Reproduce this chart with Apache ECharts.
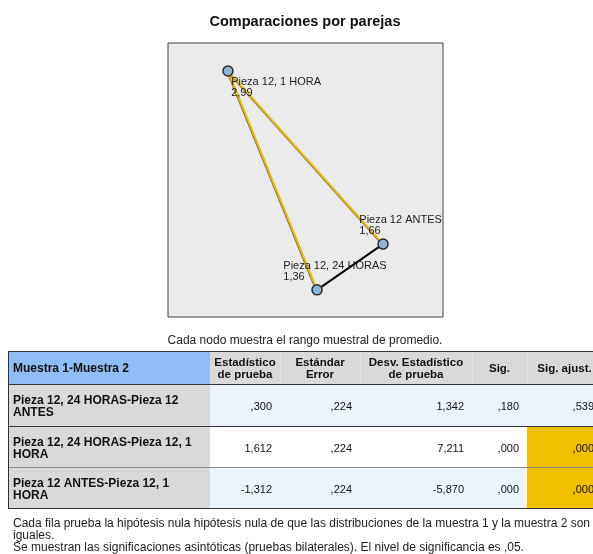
<!DOCTYPE html>
<html>
<head>
<meta charset="utf-8">
<script src="https://cdn.jsdelivr.net/npm/echarts@6/dist/echarts.min.js"></script>
<style>
  html, body { margin: 0; padding: 0; background: #fff; }
  #chart { width: 593px; height: 554px; }
</style>
</head>
<body>
<div id="chart"></div>
<script>
// nodes (layout position in a 0-100 box, mean rank)
var nodeNames = ['Pieza 12, 1 HORA', 'Pieza 12 ANTES', 'Pieza 12, 24 HORAS'];
var nodeX = [21.8, 78.2, 54.2];
var nodeY = [89.8, 26.6, 9.9];
var meanRank = [2.99, 1.66, 1.36];

// pairwise table
var headers = ['Muestra 1-Muestra 2', 'Estadístico\nde prueba', 'Estándar\nError', 'Desv. Estadístico\nde prueba', 'Sig.', 'Sig. ajust.'];
var pairs = ['Pieza 12, 24 HORAS-Pieza 12 ANTES', 'Pieza 12, 24 HORAS-Pieza 12, 1 HORA', 'Pieza 12 ANTES-Pieza 12, 1 HORA'];
var pairFrom = [2, 2, 1];
var pairTo = [1, 0, 0];
var testStat = [0.300, 1.612, -1.312];
var stdError = [0.224, 0.224, 0.224];
var stdTestStat = [1.342, 7.211, -5.870];
var sig = [0.180, 0.000, 0.000];
var sigAdj = [0.539, 0.000, 0.000];

// table layout (px inside the table grid)
var colEdges = [0, 202, 272, 352, 464, 519, 594];
var rowEdges = [0, 34, 76, 117, 158];

var FONT = '"Liberation Sans", Arial, sans-serif';

function fmt(v) {
  return v.toFixed(3).replace('.', ',').replace(/^(-?)0,/, '$1,');
}
function fmt2(v) {
  return v.toFixed(2).replace('.', ',');
}

var chart = echarts.init(document.getElementById('chart'));

var graphNodes = nodeNames.map(function (n, i) {
  var pos = [[9, 11], [-18, -24], [-28, -24]][i];
  return {
    name: n,
    value: [nodeX[i], nodeY[i]],
    rank: meanRank[i],
    label: { position: pos }
  };
});

var graphLinks = pairs.map(function (p, i) {
  var signif = sigAdj[i] < 0.05;
  return {
    source: nodeNames[pairFrom[i]],
    target: nodeNames[pairTo[i]],
    lineStyle: {
      color: signif ? '#efbd00' : '#000',
      width: 2,
      opacity: 1,
      shadowColor: signif ? 'rgba(0,0,0,0.5)' : 'transparent',
      shadowBlur: 0,
      shadowOffsetX: -1,
      shadowOffsetY: 0
    }
  };
});

var cells = [];
for (var r = 0; r < 4; r++) {
  for (var c = 0; c < 6; c++) cells.push([c, r]);
}

function cellText(c, r) {
  if (r === 0) return headers[c];
  var i = r - 1;
  return [pairs[i], fmt(testStat[i]), fmt(stdError[i]), fmt(stdTestStat[i]), fmt(sig[i]), fmt(sigAdj[i])][c];
}

function cellFill(c, r) {
  if (r === 0) return c === 0 ? '#8ebdf8' : '#d9d9d9';
  if (c === 0) return '#d9d9d9';
  if (c === 5 && sigAdj[r - 1] < 0.05) return '#f0bf00';
  return (r % 2 === 1) ? '#ebf4fd' : '#ffffff';
}

function cellFont(c, r) {
  if (r === 0) return (c === 0 ? 'bold 12px ' : 'bold 11.5px ') + FONT;
  if (c === 0) return 'bold 12px ' + FONT;
  return '11px ' + FONT;
}

function renderCell(params, api) {
  var c = api.value(0), r = api.value(1);
  var p0 = api.coord([colEdges[c], rowEdges[r]]);
  var p1 = api.coord([colEdges[c + 1], rowEdges[r + 1]]);
  var w = p1[0] - p0[0], h = p1[1] - p0[1];
  var children = [{
    type: 'rect',
    shape: { x: p0[0], y: p0[1], width: w, height: h },
    style: { fill: cellFill(c, r) }
  }];
  var bottomColor = r === 2 ? '#8a8a8a' : '#333';
  children.push({
    type: 'line',
    shape: { x1: p0[0], y1: p1[1] - 0.5, x2: p1[0], y2: p1[1] - 0.5 },
    style: { stroke: bottomColor, lineWidth: 1 }
  });
  if (r === 0) {
    children.push({
      type: 'line',
      shape: { x1: p0[0], y1: p0[1] + 0.5, x2: p1[0], y2: p0[1] + 0.5 },
      style: { stroke: '#333', lineWidth: 1 }
    });
    if (c > 1) {
      children.push({
        type: 'line',
        shape: { x1: p0[0] + 0.5, y1: p0[1] + 1, x2: p0[0] + 0.5, y2: p1[1] - 1 },
        style: { stroke: '#e4e4e4', lineWidth: 1 }
      });
    }
  }
  if (c === 0) {
    children.push({
      type: 'line',
      shape: { x1: p0[0] + 0.5, y1: p0[1], x2: p0[0] + 0.5, y2: p1[1] },
      style: { stroke: '#333', lineWidth: 1 }
    });
  }
  var tx, align;
  if (c === 0) { tx = p0[0] + 5; align = 'left'; }
  else if (r === 0) { tx = (p0[0] + p1[0]) / 2; align = 'center'; }
  else { tx = p1[0] - 8; align = 'right'; }
  children.push({
    type: 'text',
    x: tx,
    y: (p0[1] + p1[1]) / 2 + 1,
    style: {
      text: cellText(c, r),
      font: cellFont(c, r),
      fill: '#111',
      align: align,
      verticalAlign: 'middle',
      lineHeight: 12,
      width: c === 0 ? 186 : undefined,
      overflow: c === 0 ? 'break' : undefined
    }
  });
  return { type: 'group', children: children };
}

var option = {
  animation: false,
  backgroundColor: '#fff',
  textStyle: { fontFamily: FONT },
  grid: [
    { left: 168, top: 43, width: 275, height: 274, show: true,
      backgroundColor: '#ebebeb', borderColor: '#444', borderWidth: 1,
      outerBoundsMode: 'none' },
    { left: 8, top: 351, width: 594, height: 158, outerBoundsMode: 'none' }
  ],
  xAxis: [
    { gridIndex: 0, type: 'value', min: 0, max: 100, show: false },
    { gridIndex: 1, type: 'value', min: 0, max: 594, show: false }
  ],
  yAxis: [
    { gridIndex: 0, type: 'value', min: 0, max: 100, show: false },
    { gridIndex: 1, type: 'value', min: 0, max: 158, inverse: true, show: false }
  ],
  graphic: [
    { type: 'text', x: 305, y: 22, style: { text: 'Comparaciones por parejas',
      font: 'bold 14.5px ' + FONT, fill: '#111',
      align: 'center', verticalAlign: 'middle' } },
    { type: 'text', x: 305, y: 341, style: { text: 'Cada nodo muestra el rango muestral de promedio.',
      font: '12px ' + FONT, fill: '#222',
      align: 'center', verticalAlign: 'middle' } },
    { type: 'text', x: 13, y: 518, style: {
      text: 'Cada fila prueba la hipótesis nula hipótesis nula de que las distribuciones de la muestra 1 y la muestra 2 son\niguales.\nSe muestran las significaciones asintóticas (pruebas bilaterales). El nivel de significancia es ,05.',
      font: '12px ' + FONT, fill: '#222',
      align: 'left', verticalAlign: 'top', lineHeight: 12 } }
  ],
  series: [
    {
      type: 'graph',
      coordinateSystem: 'cartesian2d',
      xAxisIndex: 0,
      yAxisIndex: 0,
      symbol: 'circle',
      symbolSize: 10,
      z: 3,
      itemStyle: { color: '#8db6d6', borderColor: '#2b2b2b', borderWidth: 1.5 },
      lineStyle: { opacity: 1 },
      label: {
        show: true,
        align: 'left',
        verticalAlign: 'top',
        fontSize: 11,
        lineHeight: 11,
        color: '#222',
        formatter: function (p) { return p.name + '\n' + fmt2(p.data.rank); }
      },
      emphasis: { disabled: true },
      data: graphNodes,
      links: graphLinks
    },
    {
      type: 'custom',
      xAxisIndex: 1,
      yAxisIndex: 1,
      renderItem: renderCell,
      data: cells,
      silent: true
    }
  ]
};

chart.setOption(option);
</script>
</body>
</html>
